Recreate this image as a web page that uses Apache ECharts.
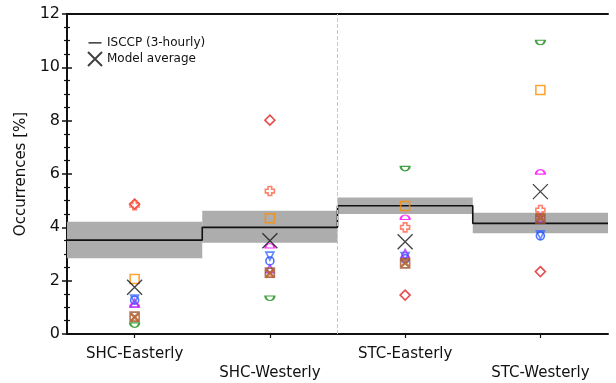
<!DOCTYPE html>
<html><head><meta charset="utf-8">
<script src="https://cdn.jsdelivr.net/npm/echarts@6/dist/echarts.min.js"></script>
<style>html,body{margin:0;padding:0;background:#fff}#c{width:616px;height:383px}</style>
</head><body><div id="c"></div>
<script>
const categories = ['SHC-Easterly', 'SHC-Westerly', 'STC-Easterly', 'STC-Westerly'];
const yTicks = [0, 2, 4, 6, 8, 10, 12];
const isccpMean = [3.52, 4.00, 4.81, 4.15];
const isccpLow  = [2.84, 3.42, 4.50, 3.78];
const isccpHigh = [4.21, 4.62, 5.12, 4.55];
const modelAverage = [1.75, 3.50, 3.46, 5.34];
const mRedDiamond   = [4.87, 8.02, 1.46, 2.34];
const mSalmonPlus   = [4.83, 5.36, 4.00, 4.65];
const mOrangeSquare = [2.06, 4.34, 4.80, 9.15];
const mMagentaHalf  = [1.05, 3.27, 4.34, 6.04];
const mGreenHalf    = [0.37, 1.38, 6.24, 10.97];
const mBlueTri      = [1.31, 2.92, 2.90, 3.72];
const mBlueCircle   = [1.27, 2.74, 2.82, 3.68];
const mPurple       = [1.16, 2.45, 3.02, 4.35];
const mBrownBox     = [0.65, 2.30, 2.65, 4.32];
const mBrownX       = [0.60, 2.25, 2.70, 4.40];

const FONT = 'DejaVu Sans';
const X_PATH = 'path://M0,0L10,10M10,0L0,10';
const LINE_ICON = 'path://M0,0H0.01V0.01H0ZM0,6.2H13V7.6H0ZM0,13.99H0.01V14H0Z';
const toPts = arr => arr.map((v, i) => [i + 0.5, v]);

function model(name, data, symbol, color, size, offset) {
  return {
    type: 'scatter', name, data: toPts(data), symbol, symbolSize: size || 9,
    symbolOffset: offset || [0, 0], z: 5,
    itemStyle: { color: 'rgba(0,0,0,0)', borderColor: color, borderWidth: 1.6 },
    xAxisIndex: 0, yAxisIndex: 0
  };
}

const stepData = isccpMean.map((v, i) => [i, v]).concat([[4, isccpMean[3]]]);

const chart = echarts.init(document.getElementById('c'), null, { renderer: 'canvas' });
chart.setOption({
  animation: false,
  textStyle: { fontFamily: FONT },
  grid: { left: 67, right: 8, top: 14, bottom: 49 },
  legend: {
    orient: 'vertical', left: 82, top: 31, itemGap: 1, itemWidth: 14, itemHeight: 14,
    textStyle: { fontFamily: FONT, fontSize: 12, color: '#111' },
    data: [{ name: 'ISCCP (3-hourly)', icon: LINE_ICON }, { name: 'Model average' }]
  },
  xAxis: [
    { type: 'value', min: 0, max: 4, position: 'bottom', show: true,
      axisLine: { show: false }, axisTick: { show: false }, axisLabel: { show: false }, splitLine: { show: false } },
    { type: 'category', data: categories, boundaryGap: true, position: 'bottom',
      axisLine: { show: true, lineStyle: { color: '#111', width: 2 } },
      axisTick: { show: true, alignWithLabel: true, length: 4, lineStyle: { color: '#111', width: 1.2 } },
      axisLabel: { fontFamily: FONT, fontSize: 15, color: '#111', margin: 11, lineHeight: 19,
        formatter: (v, i) => (i % 2 === 1 ? '\n' + v : v) } },
    { type: 'value', min: 0, max: 4, position: 'top',
      axisLine: { show: true, lineStyle: { color: '#111', width: 2 } },
      axisTick: { show: false }, axisLabel: { show: false }, splitLine: { show: false } }
  ],
  yAxis: [
    { type: 'value', min: yTicks[0], max: yTicks[yTicks.length - 1], interval: 2, position: 'left',
      name: 'Occurrences [%]', nameLocation: 'middle', nameGap: 34,
      nameTextStyle: { fontFamily: FONT, fontSize: 15, color: '#111' },
      axisLine: { show: true, lineStyle: { color: '#111', width: 2 } },
      axisTick: { show: true, length: 5, lineStyle: { color: '#111', width: 1.5 } },
      minorTick: { show: true, splitNumber: 4, length: 3, lineStyle: { color: '#111', width: 1.2 } },
      axisLabel: { fontFamily: FONT, fontSize: 16, color: '#111', margin: 7 },
      splitLine: { show: false } },
    { type: 'value', min: yTicks[0], max: yTicks[yTicks.length - 1], interval: 2, position: 'right',
      axisLine: { show: true, lineStyle: { color: '#111', width: 2 } },
      axisTick: { show: true, length: 5, lineStyle: { color: '#111', width: 1.5 } },
      minorTick: { show: true, splitNumber: 4, length: 3, lineStyle: { color: '#111', width: 1.2 } },
      axisLabel: { show: false }, splitLine: { show: false } }
  ],
  series: [
    { type: 'custom', name: 'ISCCP range', xAxisIndex: 0, yAxisIndex: 0, z: 1,
      data: isccpLow.map((lo, i) => [i, lo, isccpHigh[i]]),
      renderItem: (params, api) => {
        const i = api.value(0);
        const p0 = api.coord([i, api.value(2)]);
        const p1 = api.coord([i + 1, api.value(1)]);
        return { type: 'rect', shape: { x: p0[0], y: p0[1], width: p1[0] - p0[0], height: p1[1] - p0[1] },
          style: { fill: '#adadad' } };
      } },
    { type: 'line', name: 'ISCCP (3-hourly)', step: 'end', data: stepData, symbol: 'none', z: 3,
      xAxisIndex: 0, yAxisIndex: 0, color: '#111',
      lineStyle: { color: '#111', width: 1.6 },
      markLine: { silent: true, symbol: 'none', label: { show: false },
        lineStyle: { color: '#c8c8c8', type: 'dashed', width: 1 }, data: [{ xAxis: 2 }] } },
    model('m1', mRedDiamond, 'diamond', '#e02020', 10),
    model('m2', mSalmonPlus, 'path://M3,0H7V3H10V7H7V10H3V7H0V3H3Z', '#ff6347', 9),
    model('m3', mOrangeSquare, 'rect', '#ff8c00', 9),
    model('m4', mMagentaHalf, 'path://M0,5A5,5 0 0 1 10,5Z', '#ff00ff', [9, 4.5], [0, -1]),
    model('m5', mGreenHalf, 'path://M0,0H10A5,5 0 0 1 0,0Z', '#138a13', [9, 4.5], [0, 1]),
    model('m6', mBlueTri, 'path://M0,0H10L5,10Z', '#3a6bff', 8),
    model('m7', mBlueCircle, 'circle', '#1f4fff', 8),
    model('m8', mPurple, 'triangle', '#9b30ff', 8),
    model('m9', mBrownBox, 'path://M0,0H10V10H0ZM0,0L10,10M10,0L0,10', '#a0522d', 9),
    model('m10', mBrownX, X_PATH, '#c8641e', 8),
    { type: 'scatter', name: 'Model average', data: toPts(modelAverage), symbol: X_PATH, symbolSize: 15, z: 6,
      xAxisIndex: 0, yAxisIndex: 0, color: '#111',
      itemStyle: { color: 'rgba(0,0,0,0)', borderColor: '#111', borderWidth: 1.3 } }
  ]
});
</script></body></html>
